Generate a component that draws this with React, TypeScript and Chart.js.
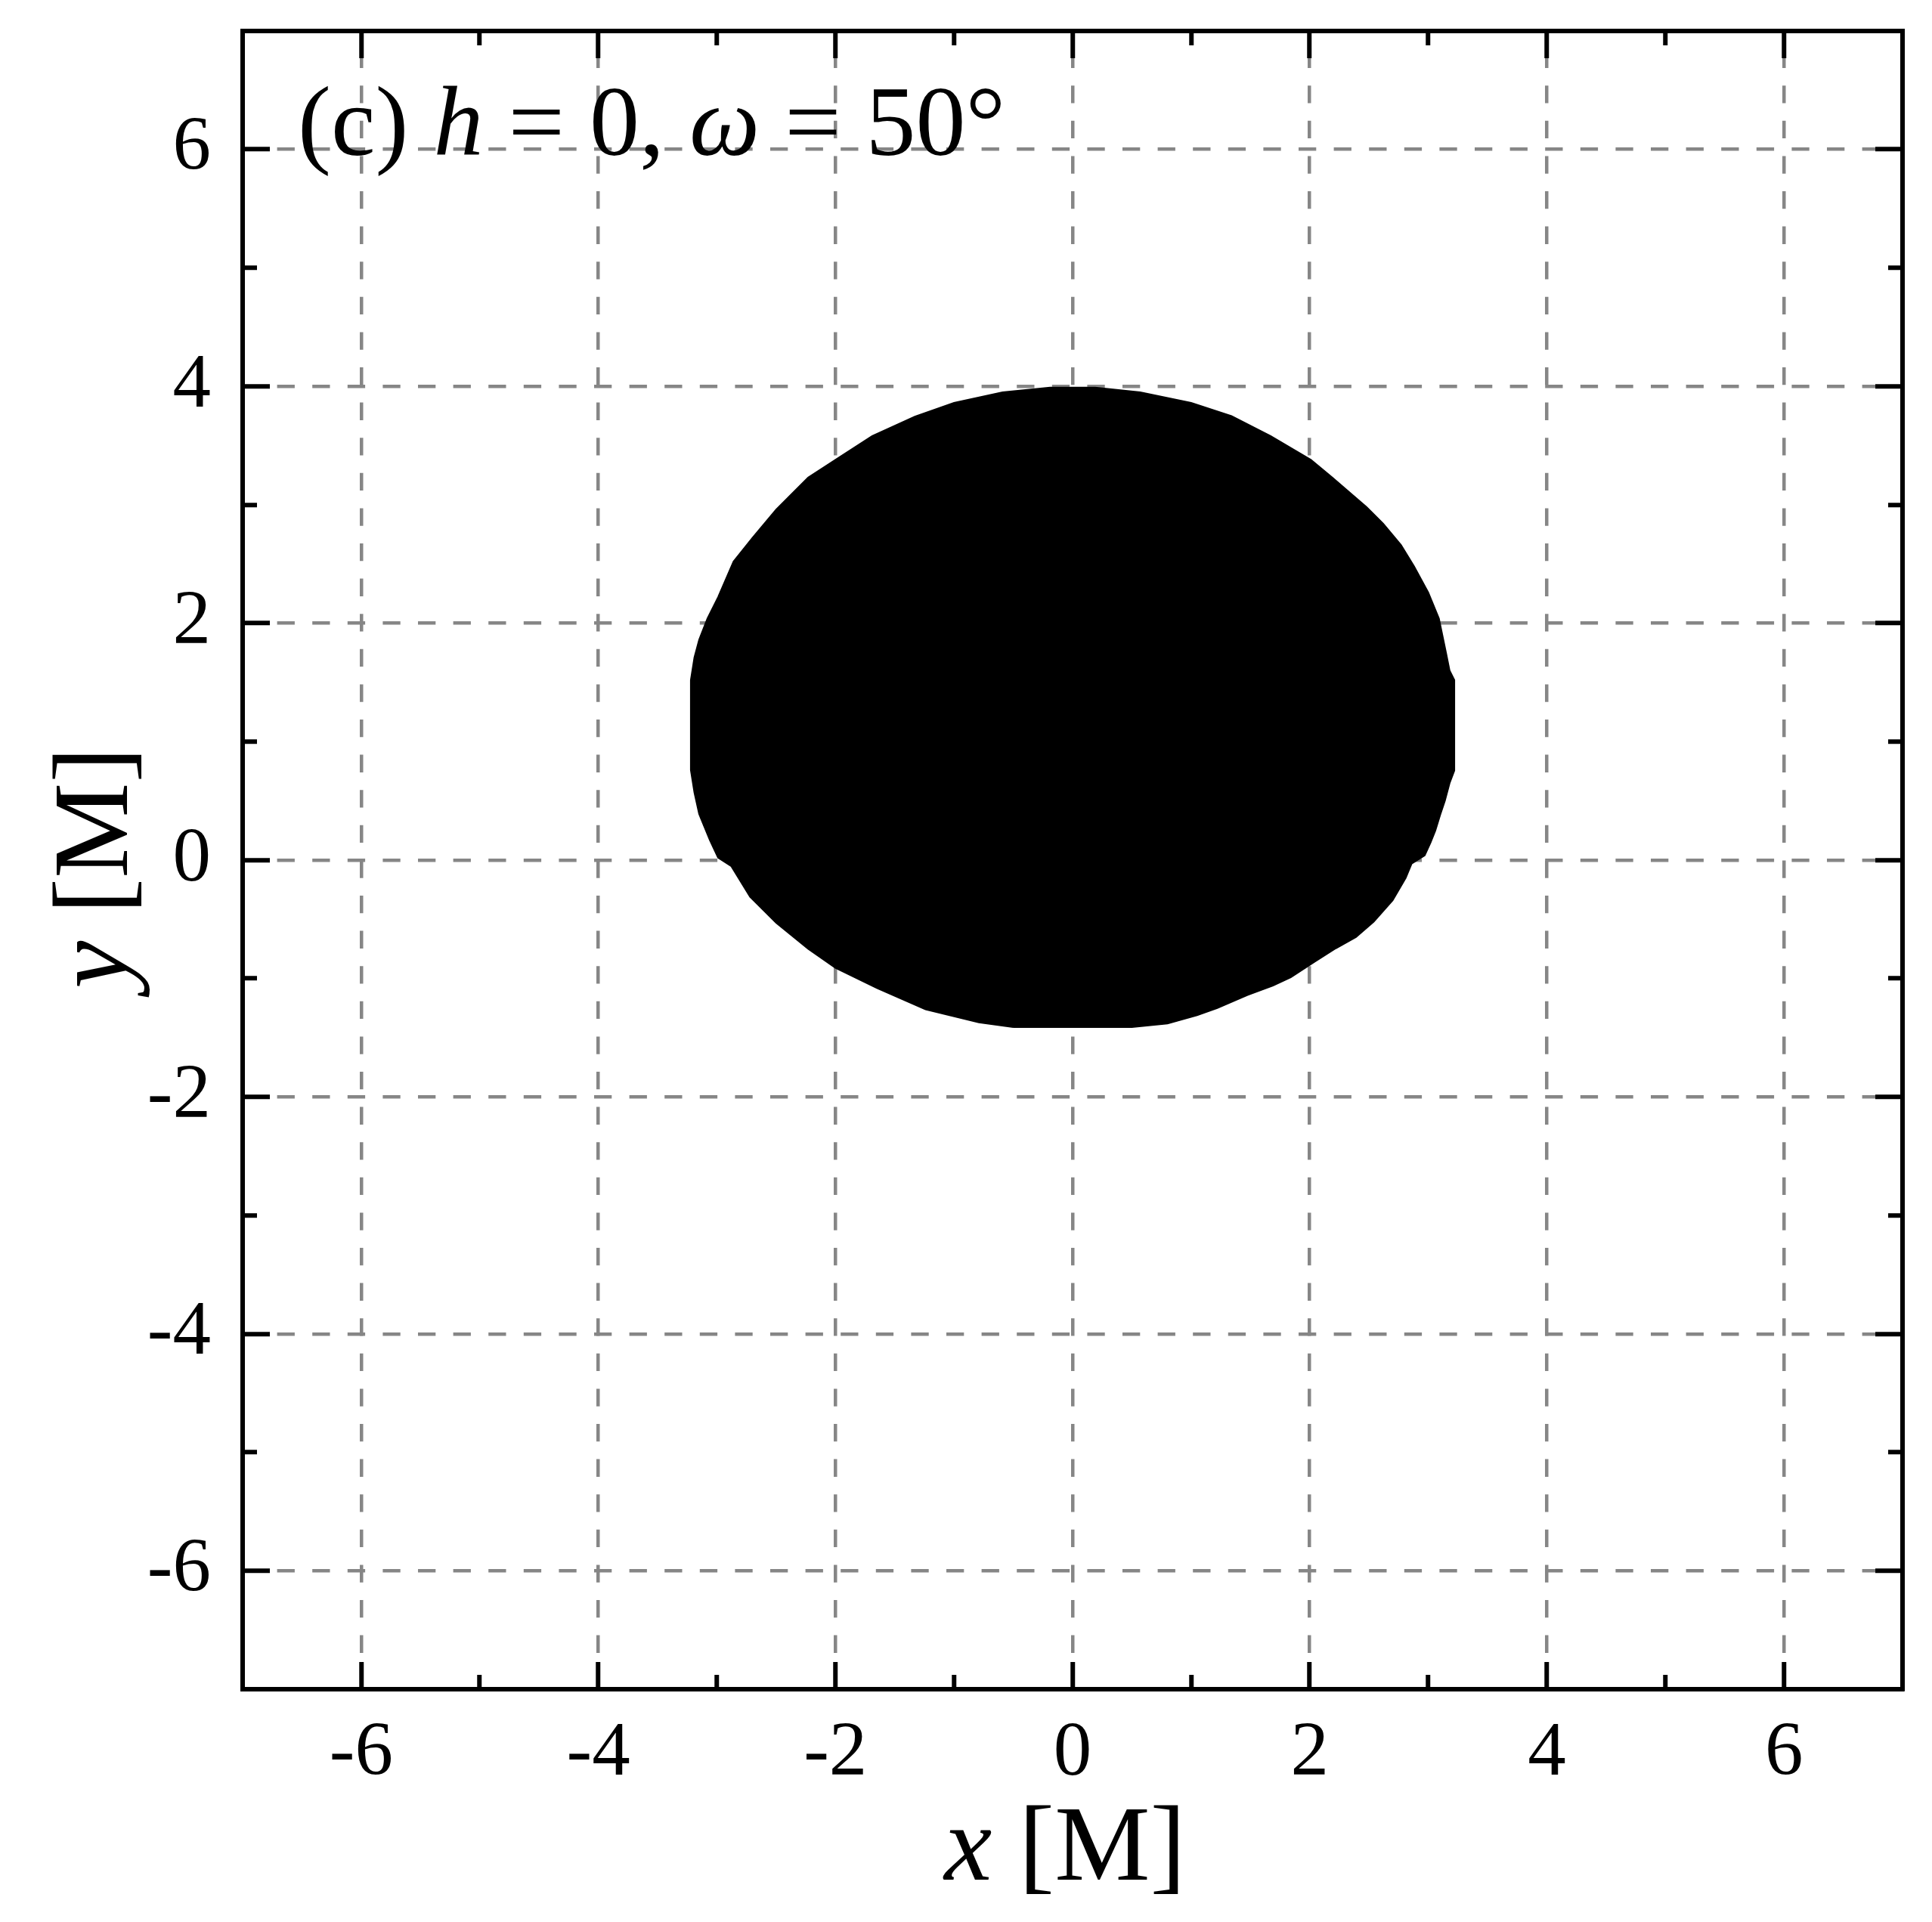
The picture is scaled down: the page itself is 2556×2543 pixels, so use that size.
import React, { useEffect, useRef } from 'react';
import { Chart, registerables } from 'chart.js';

Chart.register(...registerables);

const W = 2556;
const H = 2543;

// axis range and tick values
const axisMin = -7;
const axisMax = 7;
const xMajorTicks = [-6, -4, -2, 0, 2, 4, 6];
const xMinorTicks = [-5, -3, -1, 1, 3, 5];
const yMajorTicks = [-6, -4, -2, 0, 2, 4, 6];
const yMinorTicks = [-5, -3, -1, 1, 3, 5];

// boundary of the black shadow region (x, y in units of M)
const shadowX = [
  -0.5, 0.5, 0.8, 1.05, 1.22, 1.475, 1.69, 1.84, 2.04, 2.22, 2.39, 2.54, 2.7, 2.81, 2.86, 2.97, 3.02, 3.06,
  3.1, 3.14, 3.18, 3.22, 3.22, 3.18, 3.15, 3.09, 3.0, 2.88, 2.77, 2.62, 2.48, 2.19, 2.01, 1.67, 1.34, 1.0,
  0.57, 0.19, -0.19, -0.59, -1.0, -1.33, -1.69, -2.0, -2.23, -2.5, -2.7, -2.86, -2.99, -3.08, -3.15, -3.19,
  -3.22, -3.22, -3.19, -3.15, -3.06, -2.99, -2.88, -2.72, -2.5, -2.23, -2.0, -1.65, -1.24, -0.79, -0.5,
];
const shadowY = [
  -1.41, -1.41, -1.38, -1.31, -1.25, -1.14, -1.06, -0.99, -0.86, -0.745, -0.65, -0.52, -0.34, -0.15, -0.03,
  0.04, 0.15, 0.25, 0.38, 0.5, 0.65, 0.755, 1.52, 1.6, 1.75, 2.04, 2.26, 2.48, 2.66, 2.84, 2.98, 3.23, 3.38,
  3.58, 3.75, 3.86, 3.95, 3.99, 3.99, 3.95, 3.86, 3.745, 3.58, 3.38, 3.23, 2.96, 2.72, 2.52, 2.22, 2.04, 1.86,
  1.71, 1.52, 0.76, 0.57, 0.39, 0.17, 0.02, -0.05, -0.31, -0.53, -0.75, -0.91, -1.08, -1.26, -1.37, -1.41,
];

// texts
const titleParts = [
  { text: '(c) ', italic: false },
  { text: 'h', italic: true },
  { text: ' = 0, ', italic: false },
  { text: 'ω', italic: true },
  { text: ' = 50°', italic: false },
];
const xTitleParts = [
  { text: 'x', italic: true },
  { text: ' [M]', italic: false },
];
const yTitleParts = [
  { text: 'y', italic: true },
  { text: ' [M]', italic: false },
];

const FAMILY = '"Liberation Serif", "Times New Roman", serif';
const GRID_COLOR = '#868686';

type Part = { text: string; italic: boolean };

function fontFor(p: Part, size: number) {
  return `${p.italic ? 'italic ' : ''}${size}px ${FAMILY}`;
}
function measureParts(ctx: CanvasRenderingContext2D, parts: Part[], size: number) {
  let w = 0;
  for (const p of parts) {
    ctx.font = fontFor(p, size);
    w += ctx.measureText(p.text).width;
  }
  return w;
}
function drawParts(ctx: CanvasRenderingContext2D, parts: Part[], size: number, x: number, y: number) {
  let cx = x;
  ctx.textAlign = 'left';
  ctx.textBaseline = 'alphabetic';
  ctx.fillStyle = '#000';
  for (const p of parts) {
    ctx.font = fontFor(p, size);
    ctx.fillText(p.text, cx, y);
    cx += ctx.measureText(p.text).width;
  }
}

const textPlugin = {
  id: 'richTexts',
  afterDraw(chart: any) {
    const ctx: CanvasRenderingContext2D = chart.ctx;
    const a = chart.chartArea;
    ctx.save();
    // panel label
    drawParts(ctx, titleParts, 132, a.left + 73, a.top + 164);
    // x title
    const xs = 142;
    const xw = measureParts(ctx, xTitleParts, xs);
    drawParts(ctx, xTitleParts, xs, (a.left + a.right) / 2 - 10 - xw / 2, a.bottom + 252);
    // y title
    const yw = measureParts(ctx, yTitleParts, xs);
    ctx.translate(a.left - 153, (a.top + a.bottom) / 2 + 10);
    ctx.rotate(-Math.PI / 2);
    drawParts(ctx, yTitleParts, xs, -yw / 2, 0);
    ctx.restore();
  },
};

function axis(
  position: 'bottom' | 'top' | 'left' | 'right',
  tickValues: number[],
  major: boolean,
  showLabels: boolean,
  size: number,
  gridOnArea: boolean,
  labelPadding: number,
  dashOffset: number
) {
  const horizontal = position === 'bottom' || position === 'top';
  return {
    type: 'linear',
    position,
    display: true,
    min: axisMin,
    max: axisMax,
    weight: major ? 1 : 0,
    afterBuildTicks: (s: any) => {
      s.ticks = tickValues.map((v) => ({ value: v }));
    },
    afterFit: (s: any) => {
      if (horizontal) s.height = size;
      else s.width = size;
      s.paddingTop = 0;
      s.paddingBottom = 0;
      s.paddingLeft = 0;
      s.paddingRight = 0;
    },
    grid: {
      display: true,
      drawOnChartArea: gridOnArea,
      drawTicks: true,
      color: GRID_COLOR,
      lineWidth: 4.5,
      tickLength: major ? -36 : -19,
      tickWidth: 6,
      tickColor: '#000',
    },
    border: {
      display: major,
      color: '#000',
      width: 6,
      dash: [23.3, 23.3],
      dashOffset,
    },
    ticks: {
      display: showLabels,
      color: '#000',
      padding: labelPadding,
      autoSkip: false,
      maxRotation: 0,
      minRotation: 0,
      font: { family: FAMILY, size: 101 },
      callback: (v: any) => String(v),
    },
  };
}

export default function App() {
  const canvasRef = useRef<HTMLCanvasElement | null>(null);

  useEffect(() => {
    if (!canvasRef.current) return;
    const points = shadowX.map((x, i) => ({ x, y: shadowY[i] }));
    points.push({ x: shadowX[0], y: shadowY[0] });

    const chart = new Chart(canvasRef.current, {
      type: 'line',
      data: {
        datasets: [
          {
            label: 'shadow',
            data: points,
            xAxisID: 'x',
            yAxisID: 'y',
            borderColor: '#000',
            backgroundColor: '#000',
            borderWidth: 2,
            pointRadius: 0,
            tension: 0,
            fill: 'shape',
          } as any,
        ],
      },
      options: {
        responsive: false,
        devicePixelRatio: 1,
        animation: false,
        events: [],
        layout: { padding: { left: 0, top: 41, right: 39, bottom: 0 } },
        plugins: {
          legend: { display: false },
          tooltip: { enabled: false },
          title: { display: false },
        },
        scales: {
          x: axis('bottom', xMajorTicks, true, true, H - 2235, true, 62, 21),
          xMinor: axis('bottom', xMinorTicks, false, false, 0, false, 0, 0),
          xTop: axis('top', xMajorTicks, true, false, 0, false, 0, 0),
          xTopMinor: axis('top', xMinorTicks, false, false, 0, false, 0, 0),
          y: axis('left', yMajorTicks, true, true, 321, true, 78, 4),
          yMinor: axis('left', yMinorTicks, false, false, 0, false, 0, 0),
          yRight: axis('right', yMajorTicks, true, false, 0, false, 0, 0),
          yRightMinor: axis('right', yMinorTicks, false, false, 0, false, 0, 0),
        } as any,
      },
      plugins: [textPlugin],
    });
    return () => chart.destroy();
  }, []);

  return (
    <div style={{ position: 'absolute', left: 0, top: 0, width: W, height: H, background: '#fff' }}>
      <canvas ref={canvasRef} width={W} height={H} style={{ display: 'block', width: W, height: H }} />
    </div>
  );
}
